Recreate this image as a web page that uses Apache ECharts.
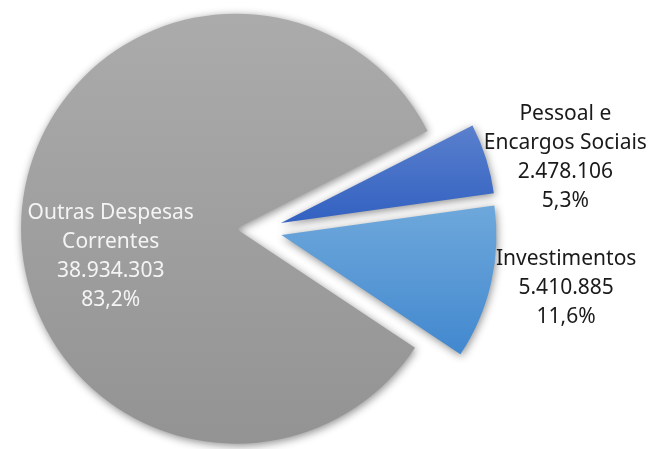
<!DOCTYPE html>
<html>
<head>
<meta charset="utf-8">
<script src="https://cdn.jsdelivr.net/npm/echarts@6/dist/echarts.min.js"></script>
<style>
html,body{margin:0;padding:0;background:#fff;}
#chart{width:657px;height:449px;}
</style>
</head>
<body>
<div id="chart"></div>
<script>
// Data
const categories = ['Pessoal e\nEncargos Sociais', 'Investimentos', 'Outras Despesas\nCorrentes'];
const values = [2478106, 5410885, 38934303];

// Styles (kept separate from data)
const gradients = [
  ['#5a80cd', '#3261c1'],
  ['#6ea8db', '#4288cf'],
  ['#ababab', '#939393']
];
const labelColors = ['#1a1a1a', '#1a1a1a', '#f4f4f4'];
const labelShift = [[179, -32], [177, 28], [-15, 34]];

function fmtNum(v) {
  return String(v).replace(/\B(?=(\d{3})+(?!\d))/g, '.');
}
const total = values.reduce((a, b) => a + b, 0);

const chart = echarts.init(document.getElementById('chart'));
const data = categories.map((c, i) => ({
  name: c,
  value: values[i],
  selected: true,
  itemStyle: {
    color: new echarts.graphic.LinearGradient(0, 0, 0, 1, [
      {offset: 0, color: gradients[i][0]},
      {offset: 1, color: gradients[i][1]}
    ])
  },
  label: {color: labelColors[i]}
}));

chart.setOption({
  animation: false,
  backgroundColor: '#ffffff',
  series: [{
    type: 'pie',
    center: [259, 230],
    radius: [0, 215],
    startAngle: 27,
    clockwise: true,
    selectedMode: 'multiple',
    selectedOffset: 23,
    avoidLabelOverlap: false,
    itemStyle: {
      shadowBlur: 8,
      shadowColor: 'rgba(0,0,0,0.45)',
      shadowOffsetX: 1,
      shadowOffsetY: 2
    },
    label: {
      show: true,
      position: 'inside',
      fontFamily: 'Noto Sans',
      fontSize: 21,
      lineHeight: 29,
      align: 'center',
      formatter: p => p.name + '\n' + fmtNum(p.value) + '\n' + (p.value / total * 100).toFixed(1).replace('.', ',') + '%'
    },
    labelLayout: p => ({dx: labelShift[p.dataIndex][0], dy: labelShift[p.dataIndex][1]}),
    labelLine: {show: false},
    emphasis: {disabled: true},
    data: data
  }]
});
</script>
</body>
</html>
